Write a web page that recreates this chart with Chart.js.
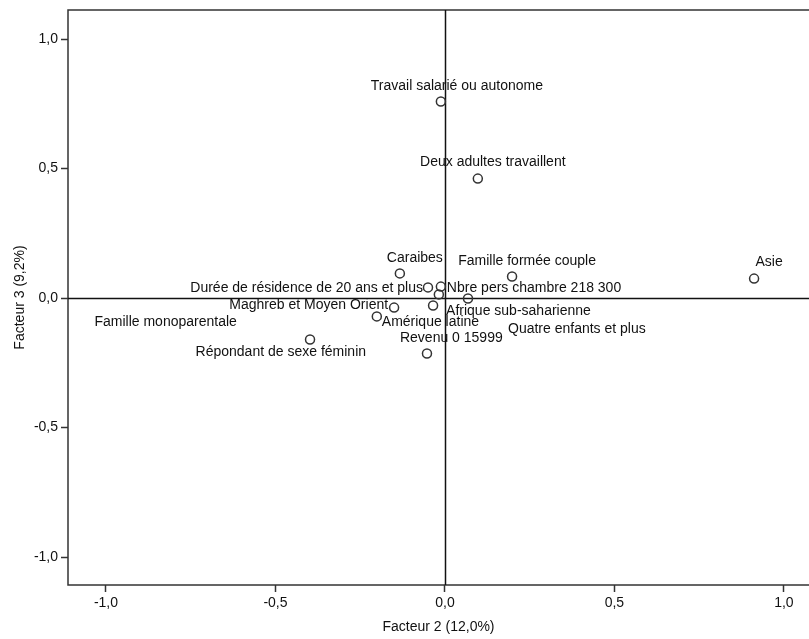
<!DOCTYPE html>
<html>
<head>
<meta charset="utf-8">
<script src="https://cdn.jsdelivr.net/npm/chart.js@4/dist/chart.umd.min.js"></script>
<style>
    html, body { margin: 0; padding: 0; background: #fff; }
    #wrap { width: 809px; height: 639px; position: relative; }
</style>
</head>
<body>
<div id="wrap"><canvas id="mcaChart"></canvas></div>
<script>
// --- DONNÉES ---
const categories = [
    'Travail salarié ou autonome',
    'Deux adultes travaillent',
    'Caraibes',
    'Famille formée couple',
    'Asie',
    'Durée de résidence de 20 ans et plus',
    'Nbre pers chambre 218 300',
    'Famille monoparentale',
    'Quatre enfants et plus',
    'Maghreb et Moyen Orient',
    'Afrique sub-saharienne',
    'Amérique latine',
    'Revenu 0 15999',
    'Répondant de sexe féminin'
];
const facteur2 = [-0.012, 0.097, -0.133, 0.198, 0.912, -0.050, -0.012, -0.018, 0.068, -0.150, -0.035, -0.201, -0.053, -0.398];
const facteur3 = [0.759, 0.461, 0.095, 0.083, 0.075, 0.041, 0.044, 0.014, -0.002, -0.037, -0.029, -0.071, -0.214, -0.160];

const xTicks = [-1, -0.5, 0, 0.5, 1];
const yTicks = [-1, -0.5, 0, 0.5, 1];

// Placement des étiquettes (décalage en px par rapport au point)
const labelPlacement = [
    [16, -15, 'center'],
    [15, -16, 'center'],
    [15, -15, 'center'],
    [15, -15, 'center'],
    [15, -16, 'center'],
    [-5, 1, 'right'],
    [6, 2, 'left'],
    [-202, 28, 'right'],
    [40, 31, 'left'],
    [-6, -2, 'right'],
    [13, 6, 'left'],
    [5, 6, 'left'],
    [-27, -15, 'left'],
    [56, 13, 'right']
];

const FONT = '"Liberation Sans", Arial, sans-serif';
const fmt = v => v.toFixed(1).replace('.', ',');

// --- PLUGINS ---
const frameAndLabels = {
    id: 'frameAndLabels',
    beforeDatasetsDraw(chart) {
        const { ctx, chartArea: a, scales } = chart;
        ctx.save();
        ctx.strokeStyle = '#333';
        ctx.lineWidth = 1.5;
        ctx.strokeRect(a.left, a.top, a.right - a.left + 2, a.bottom - a.top);
        // axes de référence
        const x0 = Math.round(scales.x.getPixelForValue(0)) + 0.5;
        const y0 = Math.round(scales.y.getPixelForValue(0)) + 0.5;
        ctx.strokeStyle = '#111';
        ctx.lineWidth = 1.5;
        ctx.beginPath();
        ctx.moveTo(x0, a.top); ctx.lineTo(x0, a.bottom);
        ctx.moveTo(a.left, y0); ctx.lineTo(a.right, y0);
        ctx.stroke();
        ctx.restore();
    },
    afterDatasetsDraw(chart) {
        const { ctx } = chart;
        const pts = chart.getDatasetMeta(0).data;
        ctx.save();
        ctx.font = '14px ' + FONT;
        ctx.fillStyle = '#111';
        ctx.textBaseline = 'middle';
        pts.forEach((p, i) => {
            const [dx, dy, align] = labelPlacement[i];
            ctx.textAlign = align;
            ctx.fillText(categories[i], p.x + dx, p.y + dy);
        });
        ctx.restore();
    }
};

// --- GRAPHIQUE ---
function initChart() {
    const ctx = document.getElementById('mcaChart').getContext('2d');
    new Chart(ctx, {
        type: 'scatter',
        data: {
            datasets: [{
                data: facteur2.map((x, i) => ({ x: x, y: facteur3[i] })),
                pointStyle: 'circle',
                pointRadius: 4.5,
                pointBorderWidth: 1.5,
                borderColor: '#333',
                backgroundColor: 'rgba(255,255,255,0)'
            }]
        },
        options: {
            responsive: true,
            maintainAspectRatio: false,
            animation: false,
            layout: { autoPadding: false, padding: { top: 10, right: 0, bottom: 0, left: 0 } },
            plugins: { legend: { display: false }, tooltip: { enabled: false } },
            scales: {
                x: {
                    type: 'linear',
                    min: -1.112,
                    max: 1.074,
                    afterBuildTicks: s => { s.ticks = xTicks.map(v => ({ value: v })); },
                    afterFit: s => { s.height = 54; s.paddingLeft = 0; s.paddingRight = 0; },
                    grid: { drawOnChartArea: false, drawTicks: true, tickLength: 7, tickColor: '#333', tickWidth: 1.5 },
                    border: { display: false },
                    ticks: { callback: v => fmt(v), color: '#111', font: { family: FONT, size: 14 }, padding: 3, maxRotation: 0 },
                    title: { display: true, text: 'Facteur 2 (12,0%)', color: '#111', font: { family: FONT, size: 14 }, padding: { top: 0, bottom: 3 } }
                },
                y: {
                    type: 'linear',
                    min: -1.108,
                    max: 1.112,
                    afterBuildTicks: s => { s.ticks = yTicks.map(v => ({ value: v })); },
                    afterFit: s => { s.width = 68; s.paddingTop = 0; s.paddingBottom = 0; },
                    grid: { drawOnChartArea: false, drawTicks: true, tickLength: 7, tickColor: '#333', tickWidth: 1.5 },
                    border: { display: false },
                    ticks: { callback: v => fmt(v), color: '#111', font: { family: FONT, size: 14 }, padding: 3 },
                    title: { display: true, text: 'Facteur 3 (9,2%)', color: '#111', font: { family: FONT, size: 14 }, padding: { top: 12, bottom: 0 } }
                }
            }
        },
        plugins: [frameAndLabels]
    });
}

window.addEventListener('load', initChart);
</script>
</body>
</html>
